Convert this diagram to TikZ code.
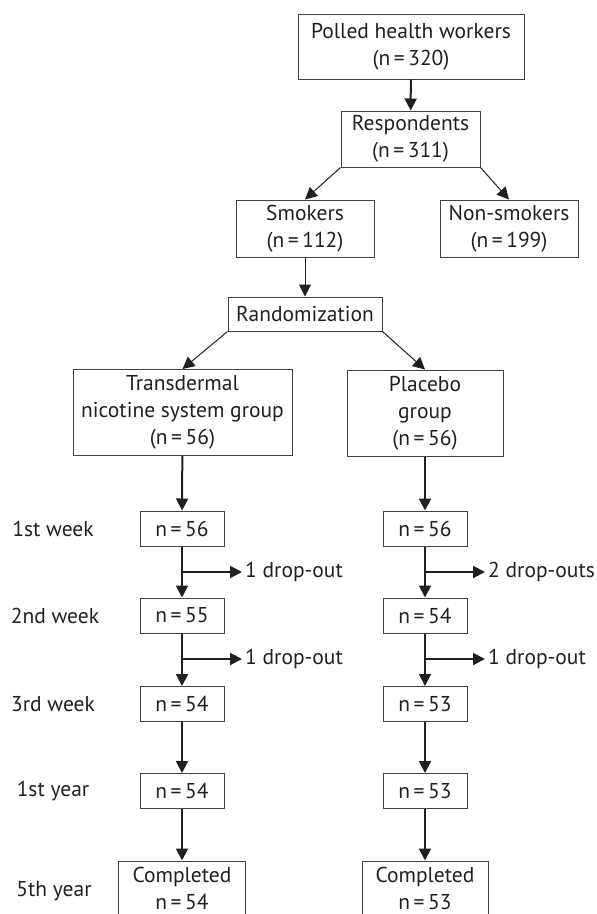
\documentclass[tikz,border=0pt]{standalone}
\usepackage{fontspec}
\setmainfont{PT Sans}
\usetikzlibrary{arrows.meta}
\definecolor{ink}{HTML}{231F20}

\begin{document}
\begin{tikzpicture}[x=1pt, y=-1pt,
  every node/.style={font=\fontsize{21.5}{27}\selectfont, text=ink},
  box/.style={draw=ink!85, line width=1pt, inner sep=0pt, align=center},
  arr/.style={-{Triangle[length=12pt,width=12pt]}, line width=2pt, draw=ink},
  thinarr/.style={arr, line width=1pt}]
\useasboundingbox (0,0) rectangle (597,914);
\clip (0,0) rectangle (597,914);
% top of the chart
\node[box,minimum width=226pt,minimum height=65pt] (polled) at (411,46.5) {Polled health workers\\(n\,=\,320)};
\node[box,minimum width=139pt,minimum height=56pt] (resp) at (410.5,139) {Respondents\\(n\,=\,311)};
\node[box,minimum width=138pt,minimum height=57pt] (smk) at (305,228.5) {Smokers\\(n\,=\,112)};
\node[box,minimum width=138pt,minimum height=57pt] (nonsmk) at (509,228.5) {Non-smokers\\(n\,=\,199)};
\node[box,minimum width=154pt,minimum height=34pt] (rand) at (305,314) {Randomization};
\node[box,minimum width=219pt,minimum height=86pt] (tns) at (182.5,412.5) {Transdermal\\nicotine system group\\(n\,=\,56)};
\node[box,minimum width=156pt,minimum height=86pt] (plc) at (425,413) {Placebo\\group\\(n\,=\,56)};
\draw[arr] (polled) -- (resp);
\draw[thinarr] (resp.south west) -- (smk.north);
\draw[thinarr] (resp.south east) -- (nonsmk.north);
\draw[thinarr] (smk) -- (rand);
\draw[thinarr] (rand.south west) -- (tns.north);
\draw[thinarr] (rand.south east) -- (plc.north);
% follow-up, both arms
\node[box,minimum width=84pt,minimum height=35pt] (t1) at (182,528.5) {n\,=\,56};
\node[box,minimum width=84pt,minimum height=35pt] (t2) at (182,615.5) {n\,=\,55};
\node[box,minimum width=84pt,minimum height=35pt] (t3) at (182,704) {n\,=\,54};
\node[box,minimum width=84pt,minimum height=35pt] (t4) at (182,791) {n\,=\,54};
\node[box,minimum width=127pt,minimum height=54pt] (t5) at (182,888) {Completed\\n\,=\,54};
\node[box,minimum width=84pt,minimum height=35pt] (p1) at (425,528.5) {n\,=\,56};
\node[box,minimum width=84pt,minimum height=35pt] (p2) at (425,615.5) {n\,=\,54};
\node[box,minimum width=84pt,minimum height=35pt] (p3) at (425,704) {n\,=\,53};
\node[box,minimum width=84pt,minimum height=35pt] (p4) at (425,791) {n\,=\,53};
\node[box,minimum width=126pt,minimum height=54pt] (p5) at (425,888) {Completed\\n\,=\,53};
\draw[arr] (tns) -- (t1);
\draw[arr] (t1) -- (t2);
\draw[arr] (t2) -- (t3);
\draw[arr] (t3) -- (t4);
\draw[arr] (t4) -- (t5);
\draw[arr] (plc) -- (p1);
\draw[arr] (p1) -- (p2);
\draw[arr] (p2) -- (p3);
\draw[arr] (p3) -- (p4);
\draw[arr] (p4) -- (p5);
% drop-outs
\coordinate (tdA) at (182,572);
\coordinate (tdAend) at (242,572);
\coordinate (tdB) at (182,659);
\coordinate (tdBend) at (242,659);
\coordinate (pdA) at (425,572);
\coordinate (pdAend) at (485,572);
\coordinate (pdB) at (425,659);
\coordinate (pdBend) at (485,659);
\draw[arr] (tdA) -- (tdAend);
\draw[arr] (tdB) -- (tdBend);
\draw[arr] (pdA) -- (pdAend);
\draw[arr] (pdB) -- (pdBend);
\node[anchor=west,inner sep=3pt] (tdAtxt) at (tdAend) {1 drop-out};
\node[anchor=west,inner sep=3pt] (tdBtxt) at (tdBend) {1 drop-out};
\node[anchor=west,inner sep=3pt] (pdAtxt) at (pdAend) {2 drop-outs};
\node[anchor=west,inner sep=3pt] (pdBtxt) at (pdBend) {1 drop-out};
% time points
\node (wk1) at (53,528.5) {1st week};
\node (wk2) at (55,615.5) {2nd week};
\node (wk3) at (53,704) {3rd week};
\node (yr1) at (53,791) {1st year};
\node (yr5) at (54,891) {5th year};
\end{tikzpicture}
\end{document}
